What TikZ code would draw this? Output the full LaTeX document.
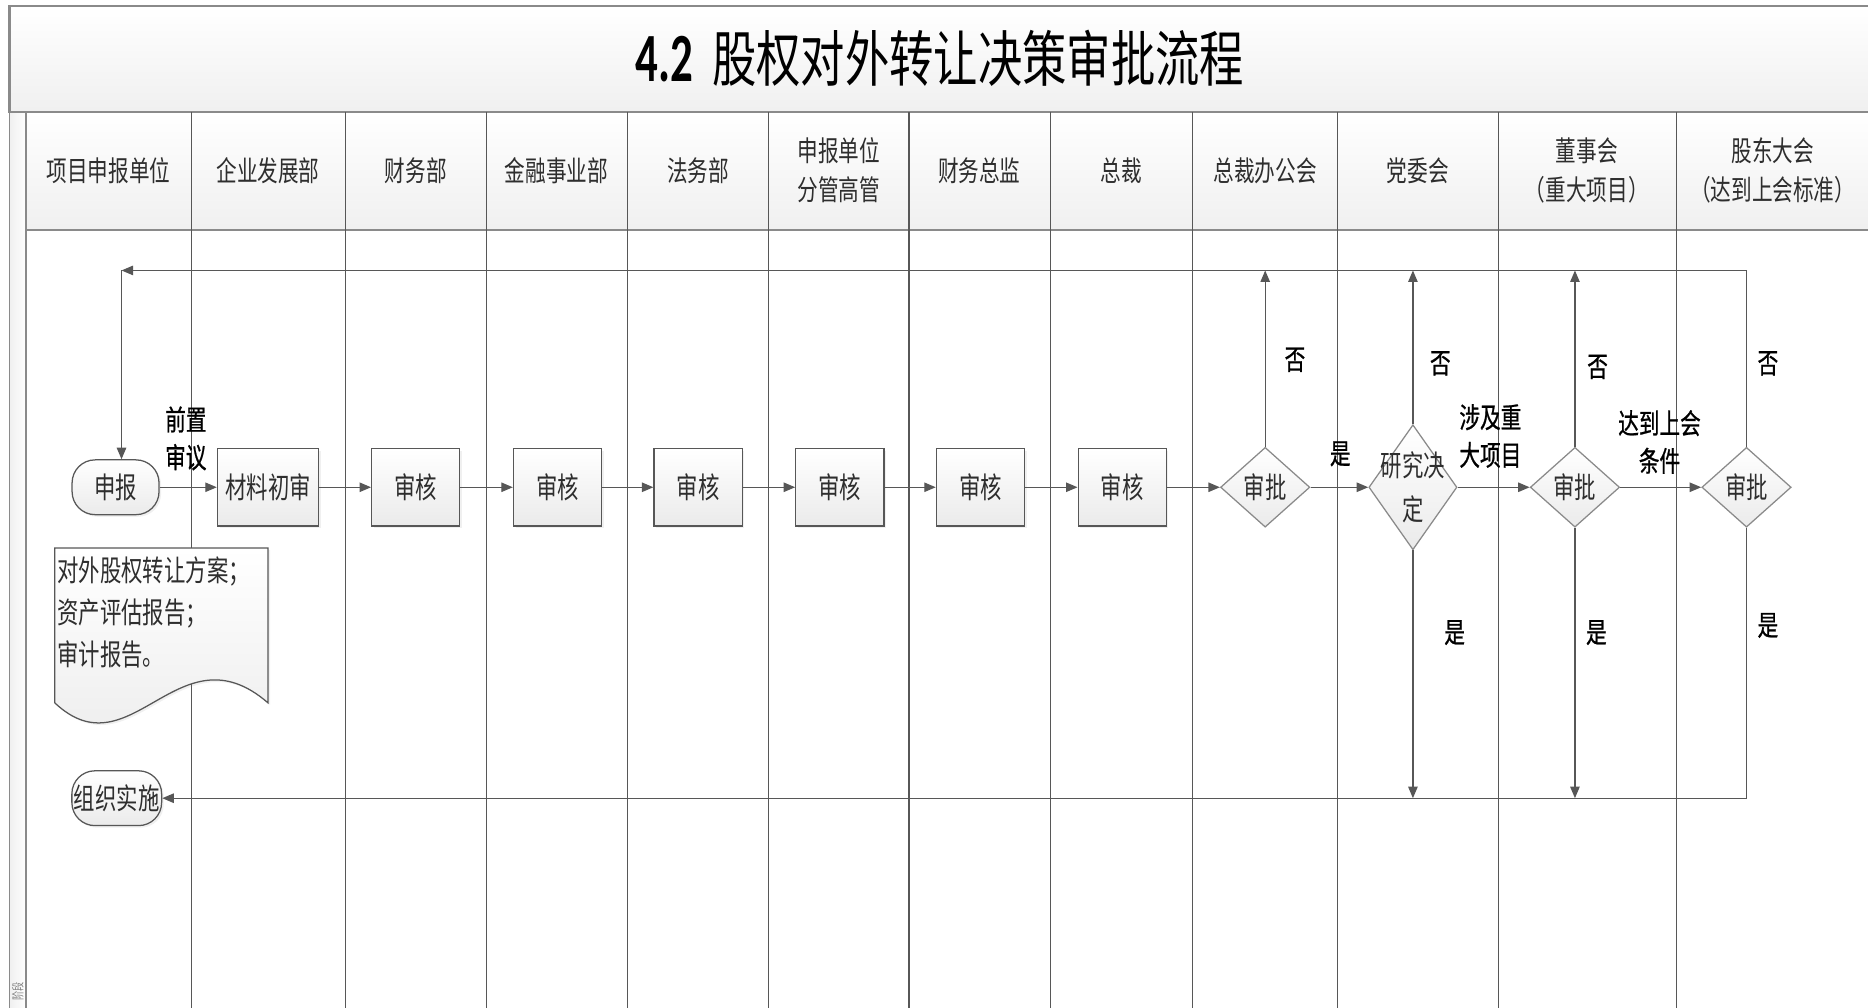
\documentclass[tikz,border=0pt]{standalone}
\usepackage{fontspec}
\newfontfamily\cjk[FakeStretch=0.73]{Noto Sans CJK SC}
\newfontfamily\cjkb[FakeStretch=0.73,FakeBold=0.8]{Noto Sans CJK SC}
\newfontfamily\latinbold[FakeStretch=0.65]{Carlito}
\usetikzlibrary{arrows.meta,shapes.geometric,shadows}
\definecolor{linegray}{HTML}{575757}
\definecolor{framegray}{HTML}{8A8A8A}
\definecolor{textgray}{HTML}{2E2E2E}
\newcommand{\fnttitle}{\cjk\fontsize{29pt}{32pt}\selectfont}
\newcommand{\fnthead}{\cjk\fontsize{13.5pt}{18.7pt}\selectfont}
\newcommand{\fntbox}{\cjk\fontsize{14pt}{21pt}\selectfont}
\newcommand{\fntlbl}{\cjkb\fontsize{13.5pt}{18pt}\selectfont}
\newcommand{\fntdoc}{\cjk\fontsize{14pt}{20pt}\selectfont}
\tikzset{
  lane/.style={draw=linegray, line width=0.5pt},
  arr/.style={draw=linegray, line width=0.6pt, -{Triangle[length=5.5pt,width=4.5pt]}},
  shade/.style={top color=white, bottom color=gray!16},
  softshadow/.style={drop shadow={opacity=0.12, shadow xshift=1pt, shadow yshift=-1pt}},
  procbox/.style={draw=linegray, line width=0.6pt, shade, softshadow, minimum width=1.48cm, minimum height=1.3cm,
    inner sep=1pt, font=\fntbox, text=textgray},
  terminal/.style={procbox, rounded corners=11pt, minimum width=1.46cm, minimum height=0.92cm},
  decision/.style={diamond, draw=framegray, line width=0.6pt, shade, minimum width=1.5cm, minimum height=1.34cm,
    inner sep=0pt, font=\fntbox, text=textgray},
  lbl/.style={font=\fntlbl, text=black, align=center, inner sep=1pt},
  head/.style={font=\fnthead, text=textgray, align=center},
}
\begin{document}
\begin{tikzpicture}[x=0.02cm, y=-0.02cm]
\useasboundingbox (0,0) rectangle (1568,846);
\clip (0,0) rectangle (1568,846);
% title band, stage strip and lane headers
\draw[framegray, line width=1pt, top color=white, bottom color=gray!12] (8,5) rectangle (1620,94);
\node[font=\fnttitle, text=black] (title) at (789,49) {{\latinbold\bfseries\fontsize{33pt}{33pt}\selectfont 4.2}\hspace{9pt}股权对外转让决策审批流程};
\draw[framegray, line width=0.8pt, left color=gray!12, right color=white] (8,94) rectangle (22,870);
\node[rotate=90, font=\cjk\fontsize{6pt}{6pt}\selectfont, text=gray] (stage) at (15,832) {阶段};
\draw[framegray, line width=1pt, top color=white, bottom color=gray!12] (22,94) rectangle (1620,193);
\foreach \x in {161,290,408,527,645,763,882,1001,1123,1258,1407}
  \draw[lane] (\x,94) -- (\x,870);
\foreach \cx/\txt in {91/项目申报单位, 225/企业发展部, 349/财务部, 467/金融事业部, 586/法务部,
    704/{申报单位\\分管高管}, 822/财务总监, 941/总裁, 1062/总裁办公会, 1190/党委会,
    1332/{董事会\\（重大项目）}, 1488/{股东大会\\（达到上会标准）}}
  \node[head] (h\cx) at (\cx,143) {\txt};
% supporting documents
\draw[draw=linegray, line width=0.6pt, shade, softshadow]
  (46,460) -- (225,460) -- (225,590) .. controls (150,525) and (110,650) .. (46,590) -- cycle;
\node[font=\fntdoc, text=textgray, align=left, anchor=west, inner sep=1pt] (docs) at (46,514)
  {对外股权转让方案；\\资产评估报告；\\审计报告。};
% main flow
\node[terminal] (sb) at (97,409) {申报};
\node[procbox, minimum width=1.7cm] (clcs) at (225,409) {材料初审};
\node[procbox] (sh1) at (349,409) {审核};
\node[procbox] (sh2) at (468,409) {审核};
\node[procbox] (sh3) at (586,409) {审核};
\node[procbox] (sh4) at (705,409) {审核};
\node[procbox] (sh5) at (823,409) {审核};
\node[procbox] (sh6) at (942,409) {审核};
\node[decision] (d1) at (1062,409) {审批};
\node[decision, minimum width=1.48cm, minimum height=2.1cm] (yj) at (1186,409) {};
\node[font=\fntbox, text=textgray, align=center] (yjt) at (1186,409) {研究决\\定};
\node[decision] (d3) at (1322,409) {审批};
\node[decision] (d4) at (1466,409) {审批};
\node[terminal] (zs) at (98,670) {组织实施};
\foreach \a/\b in {sb/clcs, clcs/sh1, sh1/sh2, sh2/sh3, sh3/sh4, sh4/sh5, sh5/sh6, sh6/d1, d1/yj, yj/d3, d3/d4}
  \draw[arr] (\a) -- (\b);
% rejected: back to the applicant
\coordinate (tl) at (102,227);
\draw[arr] (d1.north) -- (d1.north |- tl);
\draw[arr] (yj.north) -- (yj.north |- tl);
\draw[arr] (d3.north) -- (d3.north |- tl);
\draw[arr] (d4.north) |- (tl);
\draw[arr] (tl) -- (tl |- sb.north);
% approved: implementation
\draw[arr] (yj.south) -- (yj.south |- zs.east);
\draw[arr] (d3.south) -- (d3.south |- zs.east);
\draw[arr] (d4.south) |- (zs.east);
% labels
\node[lbl] (qz) at (156,368) {前置\\审议};
\node[lbl] (s1) at (1125,381) {是};
\node[lbl] (sj) at (1251,366) {涉及重\\大项目};
\node[lbl] (dd) at (1393,371) {达到上会\\条件};
\node[lbl] (n1) at (1087,302) {否};
\node[lbl] (n2) at (1209,305) {否};
\node[lbl] (n3) at (1341,308) {否};
\node[lbl] (n4) at (1484,305) {否};
\node[lbl] (y2) at (1221,531) {是};
\node[lbl] (y3) at (1340,531) {是};
\node[lbl] (y4) at (1484,525) {是};
\end{tikzpicture}
\end{document}
